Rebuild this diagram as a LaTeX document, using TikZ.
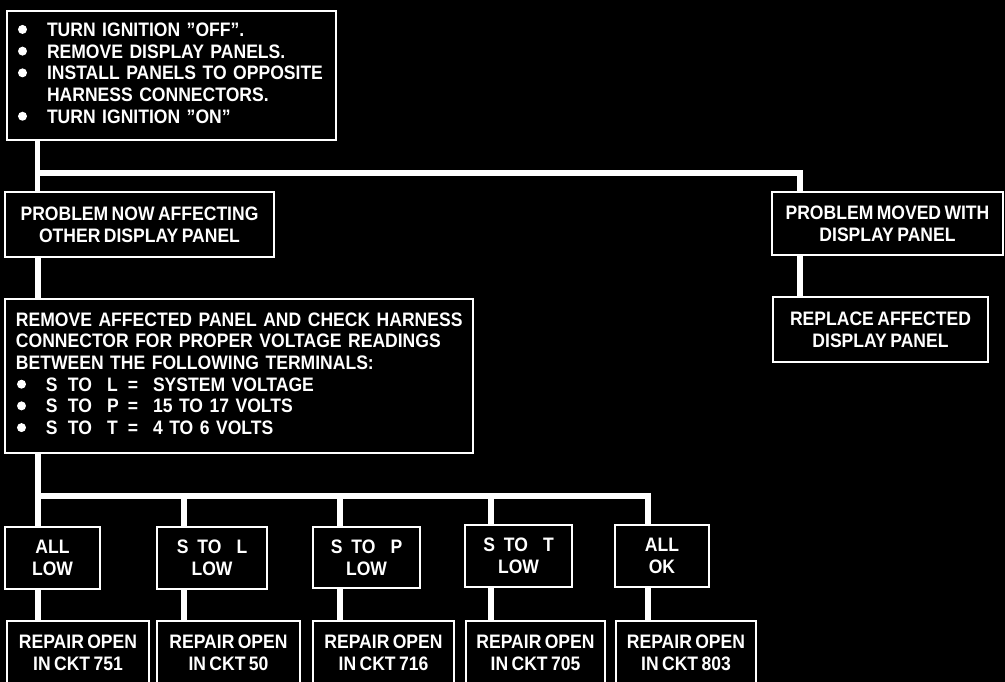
\documentclass[tikz,border=0pt]{standalone}
\usepackage{fontspec}
\newfontfamily\lab{Liberation Sans Bold}[FakeStretch=0.9, WordSpace=0.7]
\newcommand{\bul}{\makebox[30pt][l]{\hspace{1pt}\raisebox{2.5pt}{\tikz\fill[white] (0pt,0pt) circle[radius=4.5pt];}}}
\newcommand{\trm}[3]{\bul\makebox[22pt][l]{#1}\makebox[39pt][l]{TO}\makebox[21pt][l]{#2}\makebox[25pt][l]{=}#3}
\newcommand{\sto}[1]{S\hspace{9pt}TO\hspace{15pt}#1}
\begin{document}
\begin{tikzpicture}[x=1pt,y=-1pt,
  box/.style={draw=white, line width=2.5pt, fill=black, text=white,
    font=\lab\fontsize{19.5}{21.7}\selectfont, inner sep=0pt, align=center},
  conn/.style={draw=white, line width=5.5pt}]
\useasboundingbox (0,0) rectangle (1005,682);
\fill[black] (0,0) rectangle (1005,682);
\clip (0,0) rectangle (1005,682);

% boxes
\node[box, minimum width=329pt, minimum height=129pt, text width=309pt, align=left] (top) at (171.5,75.5)
  {\begin{tabular}{@{}l@{}}
   \bul TURN IGNITION ”OFF”.\\
   \bul REMOVE DISPLAY PANELS.\\
   \bul INSTALL PANELS TO OPPOSITE\\
   \hspace*{30pt}HARNESS CONNECTORS.\\
   \bul TURN IGNITION ”ON”
   \end{tabular}};
\node[box, minimum width=269pt, minimum height=65pt] (now) at (139.5,224.5)
  {PROBLEM NOW AFFECTING\\OTHER DISPLAY PANEL};
\node[box, minimum width=231pt, minimum height=63pt] (moved) at (887.5,223.5)
  {PROBLEM MOVED WITH\\DISPLAY PANEL};
\node[box, minimum width=215pt, minimum height=65pt] (replace) at (880.5,329.5)
  {REPLACE AFFECTED\\DISPLAY PANEL};
\node[box, minimum width=468pt, minimum height=154pt, text width=446pt, align=left] (check) at (239,376)
  {\begin{tabular}{@{}l@{}}
   REMOVE AFFECTED PANEL AND CHECK HARNESS\\
   CONNECTOR FOR PROPER VOLTAGE READINGS\\
   BETWEEN THE FOLLOWING TERMINALS:\\
   \trm{S}{L}{SYSTEM VOLTAGE}\\
   \trm{S}{P}{15 TO 17 VOLTS}\\
   \trm{S}{T}{4 TO 6 VOLTS}
   \end{tabular}};

\node[box, minimum width=95pt, minimum height=62pt] (lo1) at (52.5,558) {ALL\\LOW};
\node[box, minimum width=110pt, minimum height=62pt] (lo2) at (212,558) {\sto{L}\\LOW};
\node[box, minimum width=107pt, minimum height=61pt] (lo3) at (366.5,557.5) {\sto{P}\\LOW};
\node[box, minimum width=107pt, minimum height=62pt] (lo4) at (518.5,556) {\sto{T}\\LOW};
\node[box, minimum width=94pt, minimum height=62pt] (lo5) at (662,556) {ALL\\OK};

\node[box, minimum width=142pt, minimum height=63pt] (r1) at (78,652.5) {REPAIR OPEN\\IN CKT 751};
\node[box, minimum width=143pt, minimum height=63pt] (r2) at (228.5,652.5) {REPAIR OPEN\\IN CKT 50};
\node[box, minimum width=141pt, minimum height=63pt] (r3) at (383.5,652.5) {REPAIR OPEN\\IN CKT 716};
\node[box, minimum width=139pt, minimum height=63pt] (r4) at (535.5,652.5) {REPAIR OPEN\\IN CKT 705};
\node[box, minimum width=140pt, minimum height=63pt] (r5) at (686,652.5) {REPAIR OPEN\\IN CKT 803};

% junction coordinates
\coordinate (j1) at (37.5,173);
\coordinate (j1r) at (800,173);
\coordinate (t2) at (38,0);
\coordinate (j2) at (38,496);
\coordinate (d2) at (184,496);
\coordinate (d3) at (340,496);
\coordinate (d4) at (491,496);
\coordinate (j2r) at (648,496);

% connectors
\draw[conn] (top.south -| j1) -- (now.north -| j1);
\draw[conn] (j1) -- (j1r) -- (moved.north -| j1r);
\draw[conn] (moved.south -| j1r) -- (replace.north -| j1r);
\draw[conn] (now.south -| t2) -- (check.north -| t2);
\draw[conn] (check.south -| j2) -- (lo1.north -| j2);
\draw[conn] (j2) -- (j2r) -- (lo5.north -| j2r);
\draw[conn] (d2) -- (lo2.north -| d2);
\draw[conn] (d3) -- (lo3.north -| d3);
\draw[conn] (d4) -- (lo4.north -| d4);
\draw[conn] (lo1.south -| j2) -- (r1.north -| j2);
\draw[conn] (lo2.south -| d2) -- (r2.north -| d2);
\draw[conn] (lo3.south -| d3) -- (r3.north -| d3);
\draw[conn] (lo4.south -| d4) -- (r4.north -| d4);
\draw[conn] (lo5.south -| j2r) -- (r5.north -| j2r);
\end{tikzpicture}
\end{document}
